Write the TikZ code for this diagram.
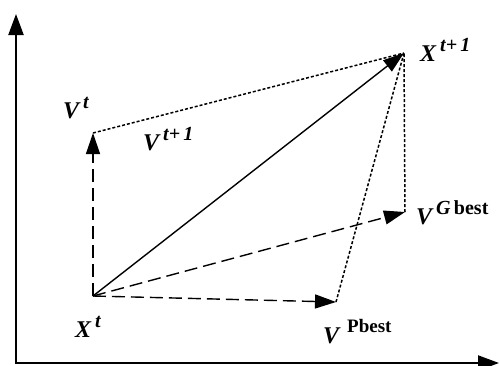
\documentclass[tikz,border=0pt]{standalone}
\usepackage{fontspec}
\setmainfont{Liberation Serif}
\usetikzlibrary{arrows.meta}
\newcommand{\supr}[1]{\raisebox{10pt}{\fontsize{20}{20}\selectfont #1}}
\begin{document}
\begin{tikzpicture}[x=1pt,y=-1pt,
  axisline/.style={line width=2.2pt,-{Triangle[length=21pt,width=15pt]}},
  vec/.style={line width=1.4pt,-{Triangle[length=21pt,width=14pt]}},
  dashvec/.style={vec,dash pattern=on 13pt off 6pt},
  dotline/.style={line width=1.5pt,dash pattern=on 3pt off 2pt},
  lbl/.style={anchor=base west,inner sep=0pt,font=\fontsize{24}{24}\selectfont\bfseries\itshape}]
\useasboundingbox (0,0) rectangle (499,365);
% points
\coordinate (O) at (16,363);
\coordinate (ytop) at (16,14);
\coordinate (xend) at (499,363);
\coordinate (Xt) at (93,296);
\coordinate (Vt) at (93,133);
\coordinate (Xn) at (404,53);
\coordinate (Vg) at (405,212);
\coordinate (Vp) at (336,302);
% axes
\draw[axisline] ([yshift=1.1pt]O) -- (ytop);
\draw[axisline] ([xshift=-1.1pt]O) -- (xend);
% dotted lines
\draw[dotline] (Vt) -- (Xn);
\draw[dotline] (Vp) -- (Xn);
\draw[dotline] (Vg) -- (Xn);
% vectors
\draw[dashvec] (Xt) -- (Vt);
\draw[dashvec] (Xt) -- (Vg);
\draw[dashvec] (Xt) -- (Vp);
\draw[vec] (Xt) -- (Xn);
% labels
\node[lbl] (lVt) at (63,118) {V\,\supr{t}};
\node[lbl] (lVn) at (143,150) {V\,\supr{t+\,1}};
\node[lbl] (lXn) at (420,61) {X\,\supr{t+\,1}};
\node[lbl] (lXt) at (75,337) {X\,\supr{t}};
\node[lbl] (lVg) at (416,224) {V\,\supr{G\,\upshape best}};
\node[lbl] (lVp) at (323,343) {V\,\,\raisebox{11pt}{\fontsize{19}{19}\selectfont\upshape Pbest}};
\end{tikzpicture}
\end{document}
